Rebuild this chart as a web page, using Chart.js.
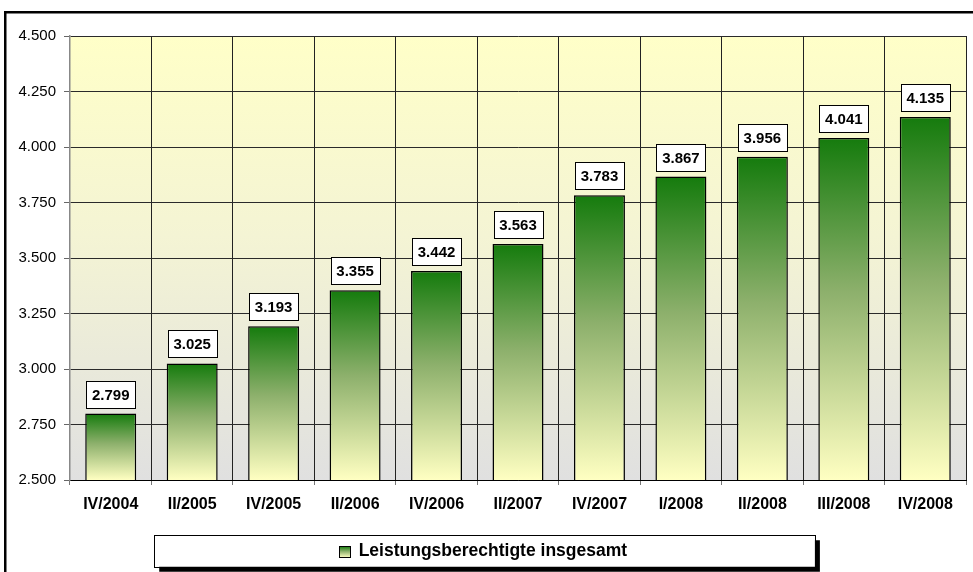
<!DOCTYPE html>
<html>
<head>
<meta charset="utf-8">
<script src="https://cdn.jsdelivr.net/npm/chart.js@4/dist/chart.umd.min.js"></script>
<style>
html,body{margin:0;padding:0;background:#fff;overflow:hidden;}
#wrap{position:relative;width:973px;height:572px;}
</style>
</head>
<body>
<div id="wrap"><canvas id="c" width="973" height="572" style="width:973px;height:572px;"></canvas></div>
<script>
const categories = ["IV/2004","II/2005","IV/2005","II/2006","IV/2006","II/2007","IV/2007","I/2008","II/2008","III/2008","IV/2008"];
const values = [2799,3025,3193,3355,3442,3563,3783,3867,3956,4041,4135];
const seriesName = "Leistungsberechtigte insgesamt";
const yMin = 2500, yMax = 4500, yStep = 250;

const FONT = "'Liberation Sans', Arial, sans-serif";
function fmt(v){
  const t = Math.floor(v/1000), r = Math.round(v%1000);
  return t > 0 ? t + '.' + String(r).padStart(3,'0') : String(r);
}

function barGradient(ctx, top, bottom){
  const g = ctx.createLinearGradient(0, top, 0, bottom);
  g.addColorStop(0, '#157B0D');
  g.addColorStop(0.45, '#8DB06C');
  g.addColorStop(1, '#FFFFC2');
  return g;
}

const decor = {
  id: 'decor',
  beforeDraw(chart){
    const {ctx, chartArea:a, legend} = chart;
    ctx.save();
    ctx.fillStyle = '#fff';
    ctx.fillRect(0,0,chart.width,chart.height);
    const g = ctx.createLinearGradient(0, a.top, 0, a.bottom);
    g.addColorStop(0, '#FFFFC8');
    g.addColorStop(0.45, '#F4F4D4');
    g.addColorStop(1, '#E0E0E0');
    ctx.fillStyle = g;
    ctx.fillRect(a.left, a.top, a.right-a.left, a.bottom-a.top);
    if (legend){
      const l = chart.width*0.1585, r = chart.width*0.8375;
      const t = legend.top + 3, b = legend.bottom - 3;
      ctx.fillStyle = '#000';
      ctx.fillRect(l+5, t+5, r-l, b-t);
      ctx.fillStyle = '#fff';
      ctx.fillRect(l, t, r-l, b-t);
      ctx.strokeStyle = '#000';
      ctx.lineWidth = 1;
      ctx.strokeRect(Math.round(l)+0.5, Math.round(t)+0.5, Math.round(r-l), Math.round(b-t));
    }
    ctx.strokeStyle = '#000';
    ctx.lineWidth = 2.5;
    ctx.strokeRect(5.25, 12.25, chart.width+50, chart.height+50);
    ctx.restore();
  },
  afterDatasetsDraw(chart){
    const {ctx} = chart;
    const meta = chart.getDatasetMeta(0);
    ctx.save();
    ctx.font = 'bold 15px ' + FONT;
    ctx.textAlign = 'center';
    ctx.textBaseline = 'middle';
    meta.data.forEach((el, i) => {
      const txt = fmt(chart.data.datasets[0].data[i]);
      const w = Math.round(ctx.measureText(txt).width + 11);
      const h = 27;
      const x = el.x, yb = el.y - 6;
      const bx = Math.round(x - w/2) + 0.5, by = Math.round(yb - h) + 0.5;
      ctx.fillStyle = '#fff';
      ctx.fillRect(bx, by, w, h);
      ctx.strokeStyle = '#000';
      ctx.lineWidth = 1;
      ctx.strokeRect(bx, by, w, h);
      ctx.fillStyle = '#000';
      ctx.fillText(txt, x, by + h/2 + 1);
    });
    ctx.restore();
  },
  afterDraw(chart){
    const {ctx, legend} = chart;
    if (!legend || !legend.legendHitBoxes || !legend.legendHitBoxes.length) return;
    const hb = legend.legendHitBoxes[0];
    const bw = 11, bh = 11;
    const x = Math.round(hb.left) + 0.5;
    const y = Math.round(hb.top + (hb.height - bh)/2) + 0.5;
    ctx.save();
    ctx.fillStyle = barGradient(ctx, y, y + bh);
    ctx.fillRect(x, y, bw, bh);
    ctx.strokeStyle = '#000';
    ctx.lineWidth = 1;
    ctx.strokeRect(x, y, bw, bh);
    ctx.restore();
  }
};

new Chart(document.getElementById('c'), {
  type: 'bar',
  data: {
    labels: categories,
    datasets: [{
      label: seriesName,
      data: values,
      backgroundColor: (c) => {
        const chart = c.chart;
        if (c.type !== 'data' || !chart.chartArea) return '#7FAA5A';
        const ys = chart.scales.y;
        return barGradient(chart.ctx, ys.getPixelForValue(c.raw), ys.getPixelForValue(ys.min));
      },
      borderColor: '#000',
      borderWidth: 1.5,
      borderSkipped: false,
      barPercentage: 0.626,
      categoryPercentage: 1.0
    }]
  },
  options: {
    responsive: false,
    animation: false,
    devicePixelRatio: 1,
    layout: { padding: { top: 36, right: 7, left: 0, bottom: 2.25 } },
    plugins: {
      tooltip: { enabled: false },
      legend: {
        position: 'bottom',
        labels: {
          boxWidth: 11, boxHeight: 11, padding: 10,
          color: '#000',
          font: { family: FONT, size: 17.5, weight: 'bold' },
          generateLabels: (chart) => [{
            text: seriesName, fillStyle: 'rgba(0,0,0,0)', strokeStyle: 'rgba(0,0,0,0)',
            lineWidth: 0, hidden: false, datasetIndex: 0
          }]
        }
      }
    },
    scales: {
      x: {
        grid: {
          offset: true,
          color: (c) => c.index === 0 ? '#888' : '#222',
          lineWidth: 1,
          tickLength: 5,
          tickColor: '#777'
        },
        border: { color: '#000', width: 1 },
        ticks: { color: '#000', padding: 10, font: { family: FONT, size: 16, weight: 'bold' }, maxRotation: 0, autoSkip: false },
        afterFit: (s) => { s.height = 52.25; }
      },
      y: {
        min: yMin, max: yMax,
        grid: { color: '#2a2a2a', lineWidth: 1, tickLength: 6, tickColor: '#666' },
        border: { color: '#888', width: 1.5 },
        ticks: {
          stepSize: yStep, color: '#000', padding: 8,
          font: { family: FONT, size: 15 },
          callback: (v) => fmt(v)
        },
        afterFit: (s) => { s.width = 70; }
      }
    }
  },
  plugins: [decor]
});
</script>
</body>
</html>
